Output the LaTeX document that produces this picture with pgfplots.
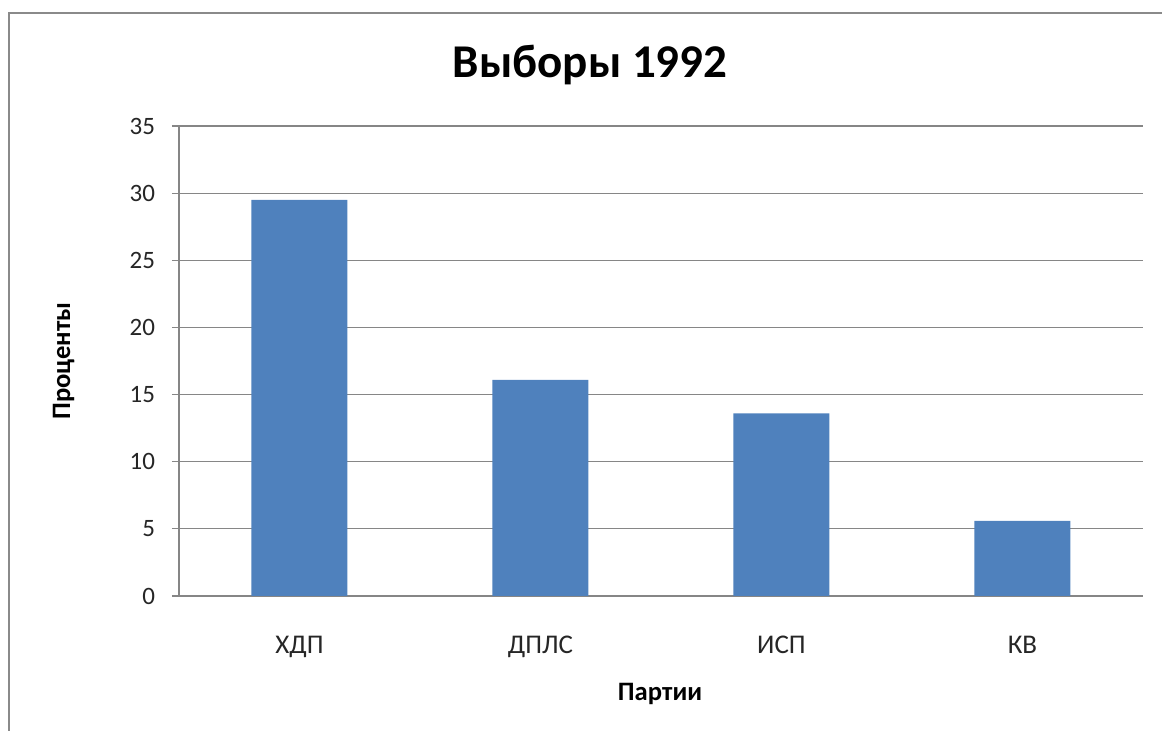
\documentclass[border=0pt]{standalone}
\usepackage{fontspec}
\setmainfont{Carlito}
\usepackage{pgfplots}
\pgfplotsset{compat=1.18}
\definecolor{barblue}{HTML}{4F81BD}
\definecolor{gridgray}{HTML}{868686}
\definecolor{framegray}{HTML}{8A8A8A}
\begin{document}
\begin{tikzpicture}
\useasboundingbox (-89.5pt,-67.5pt) rectangle (491.5pt,298pt);
% chart frame (only left and top edges fall inside the picture)
\draw[framegray, line width=1.2pt] (-85pt,-68pt) -- (-85pt,291.5pt) -- (492pt,291.5pt);
\begin{axis}[
  at={(0pt,0pt)}, anchor=south west,
  width=482pt, height=235pt, scale only axis,
  ybar, bar width=48pt,
  xmin=-0.5, xmax=3.5, ymin=0, ymax=35,
  xtick=data, xticklabels={ХДП,ДПЛС,ИСП,КВ},
  ytick={0,5,...,35},
  axis lines*=left,
  axis line style={gridgray, line width=0.6pt},
  ymajorgrids, grid style={gridgray, line width=0.6pt},
  tick align=outside, major tick length=3.5pt,
  xtick style={draw=none},
  ytick style={gridgray, line width=0.6pt},
  /pgf/number format/assume math mode=true,
  tick label style={font=\fontsize{12.5}{15}\selectfont, text=black!85},
  xticklabel style={font=\fontsize{13.5}{16}\selectfont, anchor=base, yshift=-25.5pt},
  yticklabel style={xshift=-5pt},
  title={Выборы 1992},
  title style={font=\bfseries\fontsize{23.5}{28}\selectfont, anchor=base,
    at={(axis description cs:0.4264,1.078)}},
  xlabel={Партии},
  xlabel style={font=\bfseries\fontsize{13.3}{16}\selectfont, anchor=base,
    at={(axis description cs:0.499,-0.2234)}},
  ylabel={Проценты},
  ylabel style={font=\bfseries\fontsize{13.3}{16}\selectfont, anchor=base, rotate=0,
    at={(axis description cs:-0.113,0.5)}},
]
\addplot[fill=barblue, draw=none] coordinates {
  (0, 29.5)
  (1, 16.1)
  (2, 13.6)
  (3, 5.6)
};
\end{axis}
\end{tikzpicture}
\end{document}
